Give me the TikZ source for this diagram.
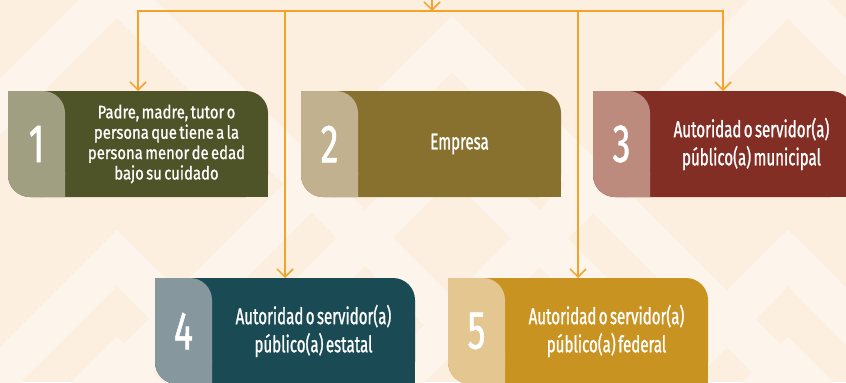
\documentclass[tikz,border=0pt]{standalone}
\usepackage{fontspec}
\setmainfont{Fira Sans}
\newfontfamily\cardfont[FakeStretch=0.66, FakeBold=1, WordSpace=0.6]{Fira Sans}
\newfontfamily\smallfont[FakeStretch=0.82, FakeBold=1, WordSpace=0.6]{Fira Sans}
\usepackage{tikz}
\usetikzlibrary{arrows.meta, positioning, calc}
\definecolor{paperBg}{HTML}{FCEFDF}
\definecolor{paperBand}{HTML}{FDF5EC}
\definecolor{wireFg}{HTML}{F4A229}
\definecolor{oliveFg}{HTML}{4E5428}
\definecolor{oliveBg}{HTML}{A09F81}
\definecolor{ochreFg}{HTML}{88712F}
\definecolor{ochreBg}{HTML}{C2B18F}
\definecolor{brickFg}{HTML}{822E24}
\definecolor{brickBg}{HTML}{BC8B7D}
\definecolor{tealFg}{HTML}{1A4B54}
\definecolor{tealBg}{HTML}{86979D}
\definecolor{goldFg}{HTML}{C99322}
\definecolor{goldBg}{HTML}{E4C690}
\tikzstyle{arrow} = [wireFg, line width=1.3pt, -{Straight Barb[length=2.4mm,width=4.8mm]}]
\tikzstyle{line} = [wireFg, line width=1.3pt]
\tikzstyle{band} = [paperBand, line width=1.2cm]
\tikzstyle{card} = [rectangle, inner sep=0, outer sep=0, minimum width=7.8cm, minimum height=3.18cm, rounded corners=0.66cm]
\tikzstyle{tab} = [card, minimum width=1.71cm]
\tikzstyle{numtext} = [text=white, font=\cardfont\fontsize{46}{46}\selectfont]
\tikzstyle{cardtext} = [text=white, align=center, font=\cardfont\fontsize{19.5}{24}\selectfont]
\tikzstyle{smalltext} = [text=white, align=center, font=\smallfont\fontsize{15.5}{17.4}\selectfont]

\begin{document}
\begin{tikzpicture}[x=0.03cm, y=0.03cm]

\useasboundingbox (0,0) rectangle (846,382);
\clip (0,0) rectangle (846,382);
\fill [paperBg] (0,0) rectangle (846,382);

% background chevrons
\draw [band] (-283,-8) -- (117,392) -- (517,-8) (-283,-276) -- (117,124) -- (517,-276) (-283,-383) -- (117,17) -- (517,-383);
\draw [band] (52,-62) -- (452,338) -- (852,-62) (52,-169) -- (452,231) -- (852,-169);
\draw [band] (388,-8) -- (788,392) -- (1188,-8) (388,-276) -- (788,124) -- (1188,-276) (388,-383) -- (788,17) -- (1188,-383);

\node (card1) [card, fill=oliveFg, anchor=north west] at (8,291) {};
\node (card2) [card, fill=ochreFg, right=0.99cm of card1] {};
\node (card3) [card, fill=brickFg, right=0.96cm of card2] {};
\node (card4) [card, fill=tealFg, anchor=north west] at (155,104) {};
\node (card5) [card, fill=goldFg, right=0.99cm of card4] {};

% square off bottom-right
\fill [oliveFg] (card1.south east) rectangle ++(-30,30);
\fill [ochreFg] (card2.south east) rectangle ++(-30,30);
\fill [brickFg] (card3.south east) rectangle ++(-30,30);
\fill [tealFg] (card4.south east) rectangle ++(-30,30);
\fill [goldFg] (card5.south east) rectangle ++(-30,30);

\node (tab1) [tab, fill=oliveBg, anchor=north west] at (card1.north west) {};
\node (tab2) [tab, fill=ochreBg, anchor=north west] at (card2.north west) {};
\node (tab3) [tab, fill=brickBg, anchor=north west] at (card3.north west) {};
\node (tab4) [tab, fill=tealBg, anchor=north west] at (card4.north west) {};
\node (tab5) [tab, fill=goldBg, anchor=north west] at (card5.north west) {};
\fill [oliveBg] (tab1.north west) rectangle ++(25,-25) (tab1.south east) rectangle ++(-25,25);
\fill [ochreBg] (tab2.north west) rectangle ++(25,-25) (tab2.south east) rectangle ++(-25,25);
\fill [brickBg] (tab3.north west) rectangle ++(25,-25) (tab3.south east) rectangle ++(-25,25);
\fill [tealBg] (tab4.north west) rectangle ++(25,-25) (tab4.south east) rectangle ++(-25,25);
\fill [goldBg] (tab5.north west) rectangle ++(25,-25) (tab5.south east) rectangle ++(-25,25);

\node (num1) [numtext] at (tab1) {1};
\node (num2) [numtext] at (tab2) {2};
\node (num3) [numtext] at (tab3) {3};
\node (num4) [numtext] at (tab4) {4};
\node (num5) [numtext] at (tab5) {5};

\node (lbl1) [smalltext] at ($(tab1.east)!0.5!(card1.east)$) {Padre, madre, tutor o\\persona que tiene a la\\persona menor de edad\\bajo su cuidado};
\node (lbl2) [cardtext] at ($(tab2.east)!0.5!(card2.east)$) {Empresa};
\node (lbl3) [cardtext] at ($(tab3.east)!0.5!(card3.east)$) {Autoridad o servidor(a)\\público(a) municipal};
\node (lbl4) [cardtext] at ($(tab4.east)!0.5!(card4.east)$) {Autoridad o servidor(a)\\público(a) estatal};
\node (lbl5) [cardtext] at ($(tab5.east)!0.5!(card5.east)$) {Autoridad o servidor(a)\\público(a) federal};

\coordinate (src) at (432,395);
\coordinate (hub) at (432,371);
\draw [arrow] (src) -- (hub);
\draw [arrow] (hub) -| (card1.north);
\draw [arrow] (hub) -| (card3.north);
\draw [arrow] (hub) -| (card4.north);
\draw [arrow] (hub) -| (card5.north);

\end{tikzpicture}
\end{document}
